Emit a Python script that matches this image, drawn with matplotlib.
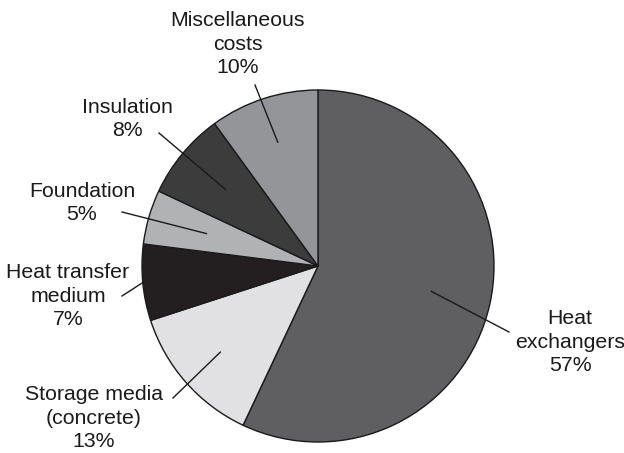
import numpy as np
import matplotlib.pyplot as plt

# cost shares, clockwise from 12 o'clock
labels = ["Heat\nexchangers", "Storage media\n(concrete)", "Heat transfer\nmedium",
          "Foundation", "Insulation", "Miscellaneous\ncosts"]
shares = [57, 13, 7, 5, 8, 10]
colors = ["#5f5f61", "#e1e1e3", "#231f20", "#b1b2b4", "#3c3c3d", "#949598"]

# layout (pixel coords, y up)
center = (318, 187)
radius = 176
text_pos = [(570, 111), (94, 35), (68, 157), (82, 250), (127, 334), (238, 409)]
line_end = [(509, 121), (173, 55), (122, 157), (122, 241), (159, 320), (255, 368)]
inner_frac = [0.66, 0.74, 1.0, 0.66, 0.68, 0.74]

plt.rcParams['font.family'] = ['Liberation Sans', 'DejaVu Sans']

fig = plt.figure(figsize=(6.24, 4.53), dpi=100)
ax = fig.add_axes([0, 0, 1, 1])

wedges, _ = ax.pie(shares, colors=colors, startangle=90, counterclock=False,
                   center=center, radius=radius, frame=True,
                   wedgeprops=dict(edgecolor='#1a1a1a', linewidth=1.0))
ax.set_xlim(0, 624)
ax.set_ylim(0, 453)
ax.set_aspect('equal')
ax.axis('off')

for w, lab, val, tp, le, fr in zip(wedges, labels, shares, text_pos, line_end, inner_frac):
    mid = np.deg2rad((w.theta1 + w.theta2) / 2)
    x0 = center[0] + fr * radius * np.cos(mid)
    y0 = center[1] + fr * radius * np.sin(mid)
    ax.plot([x0, le[0]], [y0, le[1]], color='#1a1a1a', lw=1.0)
    ax.text(tp[0], tp[1], f"{lab}\n{val}%", ha='center', va='center',
            fontsize=15.3, linespacing=1.32, color='#1a1a1a')

fig.savefig("out.png", dpi=100)
